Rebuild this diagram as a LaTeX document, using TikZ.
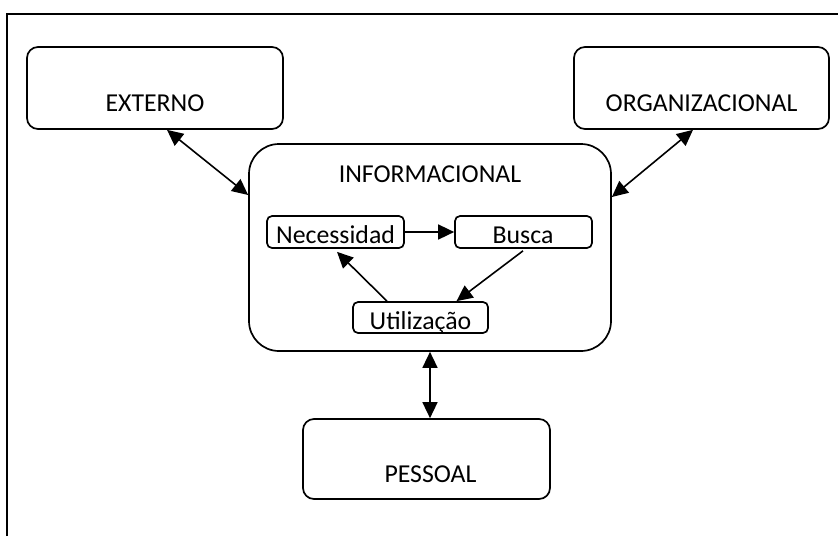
\documentclass[tikz,border=0pt]{standalone}
\usepackage{fontspec}
\setmainfont{Carlito}
\usetikzlibrary{arrows.meta}

\tikzset{
  box/.style={draw, line width=1.7pt, rectangle, inner sep=0pt},
  bigbox/.style={box, rounded corners=11pt},
  subbox/.style={box, rounded corners=5pt},
  caption/.style={inner sep=0pt, anchor=base, font=\fontsize{25.8}{30}\selectfont},
  tip/.style={Triangle[length=16pt,width=15pt]},
  link/.style={line width=1.6pt, -{Triangle[length=16pt,width=15pt]}},
  duplex/.style={line width=1.6pt, {Triangle[length=16pt,width=15pt]}-{Triangle[length=16pt,width=15pt]}}
}

\begin{document}
\begin{tikzpicture}[x=1pt, y=-1pt]
  \useasboundingbox (0,0) rectangle (838,536);

  % open frame: left and top edges only
  \draw[line width=2pt] (7,536) -- (7,14) -- (838,14);

  % outer environments
  \node[bigbox, minimum width=256pt, minimum height=82pt] (ext) at (155,88) {};
  \node[bigbox, minimum width=255pt, minimum height=82pt] (org) at (701.5,88) {};
  \node[bigbox, minimum width=247pt, minimum height=80pt] (pes) at (426.5,459) {};
  \node[box, rounded corners=30pt, minimum width=362pt, minimum height=207pt] (inf) at (430,247.5) {};

  % inner cycle
  \node[subbox, minimum width=137pt, minimum height=32pt] (nec) at (335.5,232) {};
  \node[subbox, minimum width=137pt, minimum height=32pt] (bus) at (523.5,232) {};
  \node[subbox, minimum width=135pt, minimum height=31pt] (uti) at (420.5,317.5) {};

  % captions
  \node[caption] (extT) at (155,111) {EXTERNO};
  \node[caption] (orgT) at (701.5,111) {ORGANIZACIONAL};
  \node[caption] (infT) at (430,182) {INFORMACIONAL};
  \node[caption] (pesT) at (430.5,482) {PESSOAL};
  \node[caption] (necT) at (335.5,243) {Necessidad};
  \node[caption] (busT) at (523,243) {Busca};
  \node[caption] (utiT) at (420.5,329.5) {Utilização};

  % connectors between environments
  \draw[duplex] ([xshift=12pt]ext.south) -- ([yshift=52.5pt]inf.west);
  \draw[duplex] ([xshift=-8.5pt]org.south) -- ([yshift=50.5pt]inf.east);
  \draw[duplex] (inf.south) -- (inf.south |- pes.north);

  % cycle arrows
  \draw[link] (nec.east) -- (bus.west);
  \draw[link] ([xshift=-0.5pt,yshift=-2pt]bus.south) -- ([xshift=36pt]uti.north);
  \draw[link] ([xshift=-33.5pt]uti.north) -- ([xshift=1.5pt,yshift=-3pt]nec.south);
\end{tikzpicture}
\end{document}
